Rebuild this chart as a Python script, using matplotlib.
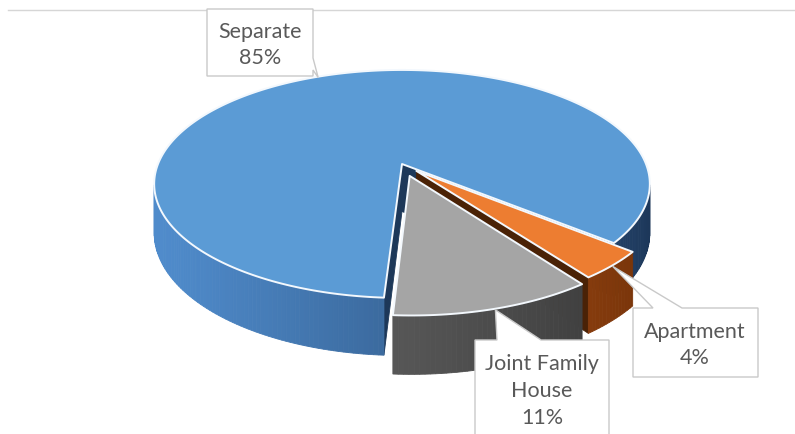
import textwrap
import numpy as np
import matplotlib
matplotlib.use("Agg")
import matplotlib.pyplot as plt
from matplotlib.patches import Polygon

# ---- data -------------------------------------------------------------
categories = ["Separate", "Apartment", "Joint Family House"]
shares = [85, 4, 11]                      # percent
top_colors = ["#5B9BD5", "#ED7D31", "#A5A5A5"]
wall_dark = ["#1a3354", "#6a2c06", "#303030"]
wall_light = ["#4f8bcb", "#d06620", "#6e6e6e"]
face_colors = ["#1d3859", "#4a2206", "#2c2c2c"]
explode = [0.0, 0.085, 0.11]              # fraction of radius
first_angle = 183.5                       # degrees, clockwise from 12 o'clock

# ---- projection of the 3-D pie onto the page (pixel units) ------------
CX, CY = 402.0, 164.0     # pie centre on the page
RX, RY = 244.0, 110.5     # radius across / depth
PERSP = 0.175             # perspective strength (near side is larger)
DEPTH = 47.5              # pie thickness
CAM = np.array([0.0, 1.0 / PERSP])
LIGHT = 250.0             # direction the light comes from (deg)


def project(u, v, z=0.0):
    s = 1.0 / (1.0 - PERSP * v)
    return CX + RX * u * s, CY + (RY * v + DEPTH * z) * s


def unit(theta):
    t = np.radians(theta)
    return np.array([np.sin(t), -np.cos(t)])


def shade(i, theta):
    t = (1 + np.cos(np.radians(theta - LIGHT))) / 2
    t = t ** 1.3
    d = np.array(matplotlib.colors.to_rgb(wall_dark[i]))
    l = np.array(matplotlib.colors.to_rgb(wall_light[i]))
    return tuple(d + (l - d) * t)


fig = plt.figure(figsize=(7.95, 4.34), dpi=100)
ax = fig.add_axes([0, 0, 1, 1])
ax.set_xlim(0, 795)
ax.set_ylim(434, 0)
ax.axis("off")

# chart-area top border
ax.plot([8, 795], [10, 10], color="#d6d6d6", lw=1.0, zorder=0)

walls = []       # (distance from camera, polygon pts, colour)
tops = []
tips = []
angle = first_angle
for i, share in enumerate(shares):
    a0 = angle
    a1 = angle + share * 3.6
    angle = a1
    mid = (a0 + a1) / 2
    c = explode[i] * unit(mid)

    # top face
    arc = np.linspace(a0, a1, max(int(abs(a1 - a0)), 2) + 1)
    pts = [project(*c)] + [project(*(c + unit(a))) for a in arc]
    tops.append((pts, top_colors[i]))

    # label pointer sits on the rim at the middle of the slice
    tips.append(project(*(c + unit(mid)), 0.02))

    # curved outer wall, in thin strips
    for a, b in zip(arc[:-1], arc[1:]):
        m = (a + b) / 2
        p = c + unit(m)
        if np.dot(CAM - p, unit(m)) <= 0:
            continue
        pa, pb = c + unit(a), c + unit(b)
        quad = [project(*pa), project(*pb), project(*pb, 1), project(*pa, 1)]
        walls.append((np.linalg.norm(CAM - p), quad, shade(i, m)))

    # flat radial faces
    for ang, sign in ((a0, -1), (a1, 1)):
        t = np.radians(ang)
        normal = sign * np.array([np.cos(t), np.sin(t)])
        if np.dot(CAM - c, normal) <= 0:
            continue
        o = c + unit(ang)
        quad = [project(*c), project(*o), project(*o, 1), project(*c, 1)]
        centre = c + 0.5 * unit(ang)
        walls.append((np.linalg.norm(CAM - centre), quad, face_colors[i]))

walls.sort(key=lambda w: -w[0])
for k, (_, quad, col) in enumerate(walls):
    ax.add_patch(Polygon(quad, closed=True, facecolor=col, edgecolor=col,
                         lw=0.6, zorder=1 + k * 1e-4))

for pts, col in tops:
    ax.add_patch(Polygon(pts, closed=True, facecolor=col,
                         edgecolor="#f3f8fd", lw=1.4, joinstyle="round",
                         zorder=3))


# ---- data callouts ----------------------------------------------------
def callout(box, tip, side, b0, b1):
    x0, y0, x1, y1 = box
    if side == "top":
        outline = [(x0, y0), (b0, y0), tip, (b1, y0), (x1, y0), (x1, y1), (x0, y1)]
    else:  # right
        outline = [(x0, y0), (x1, y0), (x1, b0), tip, (x1, b1), (x1, y1), (x0, y1)]
    ax.add_patch(Polygon(outline, closed=True, facecolor="white",
                         edgecolor="#c9c9c9", lw=1.0, zorder=6))


label_boxes = [(207, 9, 313, 76), (633, 308, 758, 377), (475, 340, 609, 450)]
pointer_sides = [("right", 58, 70), ("top", 653, 682), ("top", 497, 541)]
text_centres = [(260, 45), (695, 345), (542, 391)]

for i, name in enumerate(categories):
    side, b0, b1 = pointer_sides[i]
    callout(label_boxes[i], tips[i], side, b0, b1)
    label = textwrap.fill(name, 12) + f"\n{shares[i]}%"
    ax.text(*text_centres[i], label, ha="center", va="center",
            fontsize=15.5, family="Lato", color="#595959",
            linespacing=1.42, zorder=7)

fig.savefig("out.png", dpi=100)
